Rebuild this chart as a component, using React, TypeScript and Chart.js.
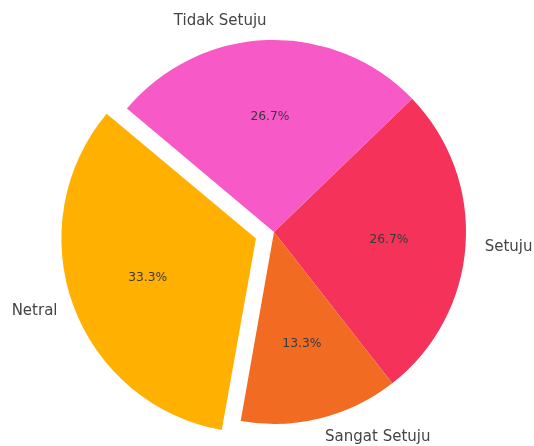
import React, { useEffect, useRef } from "react";
import { Chart, registerables } from "chart.js";

Chart.register(...registerables);

const categories = ["Setuju", "Sangat Setuju", "Netral", "Tidak Setuju"];
const values = [4, 2, 5, 4];
const colors = ["#F5335A", "#F26B22", "#FFB000", "#F75AC7"];
const explode = [0, 0, 0.1, 0];

const labelPlugin = {
  id: "pieLabels",
  afterDatasetsDraw(chart: any) {
    const ctx = chart.ctx;
    const meta = chart.getDatasetMeta(0);
    const total = values.reduce((a, b) => a + b, 0);
    meta.data.forEach((arc: any, i: number) => {
      const { x, y, startAngle, endAngle, outerRadius } = arc.getProps(
        ["x", "y", "startAngle", "endAngle", "outerRadius"],
        true
      );
      const mid = (startAngle + endAngle) / 2;
      const off = explode[i] * outerRadius;
      const cx = x + Math.cos(mid) * off;
      const cy = y + Math.sin(mid) * off;
      ctx.save();
      ctx.font = "12.3px 'DejaVu Sans'";
      ctx.fillStyle = "#3a3a3a";
      ctx.textAlign = "center";
      ctx.textBaseline = "middle";
      const pct = ((values[i] / total) * 100).toFixed(1) + "%";
      ctx.fillText(pct, cx + Math.cos(mid) * outerRadius * 0.6, cy + Math.sin(mid) * outerRadius * 0.6);
      const lx = cx + Math.cos(mid) * outerRadius * 1.1;
      const ly = cy + Math.sin(mid) * outerRadius * 1.1;
      ctx.font = "15px 'DejaVu Sans'";
      ctx.fillStyle = "#444444";
      ctx.textAlign = lx > cx ? "left" : "right";
      ctx.fillText(categories[i], lx, ly);
      ctx.restore();
    });
  },
};

export default function App() {
  const ref = useRef<HTMLCanvasElement | null>(null);
  useEffect(() => {
    if (!ref.current) return;
    const chart = new Chart(ref.current, {
      type: "pie",
      data: {
        labels: categories,
        datasets: [
          {
            data: values,
            backgroundColor: colors,
            borderWidth: 0,
            // Chart.js translates arcs by offset / 4
            offset: explode.map((e) => e * 192 * 4),
          } as any,
        ],
      },
      options: {
        responsive: false,
        animation: false,
        rotation: 46,
        radius: 192,
        layout: { padding: { left: 14, top: 18, right: 0, bottom: 0 } },
        plugins: { legend: { display: false }, tooltip: { enabled: false } },
      } as any,
      plugins: [labelPlugin],
    });
    return () => chart.destroy();
  }, []);
  return (
    <div style={{ position: "fixed", left: 0, top: 0, width: 534, height: 446, background: "#fff" }}>
      <canvas ref={ref} width={534} height={446} style={{ display: "block" }} />
    </div>
  );
}
